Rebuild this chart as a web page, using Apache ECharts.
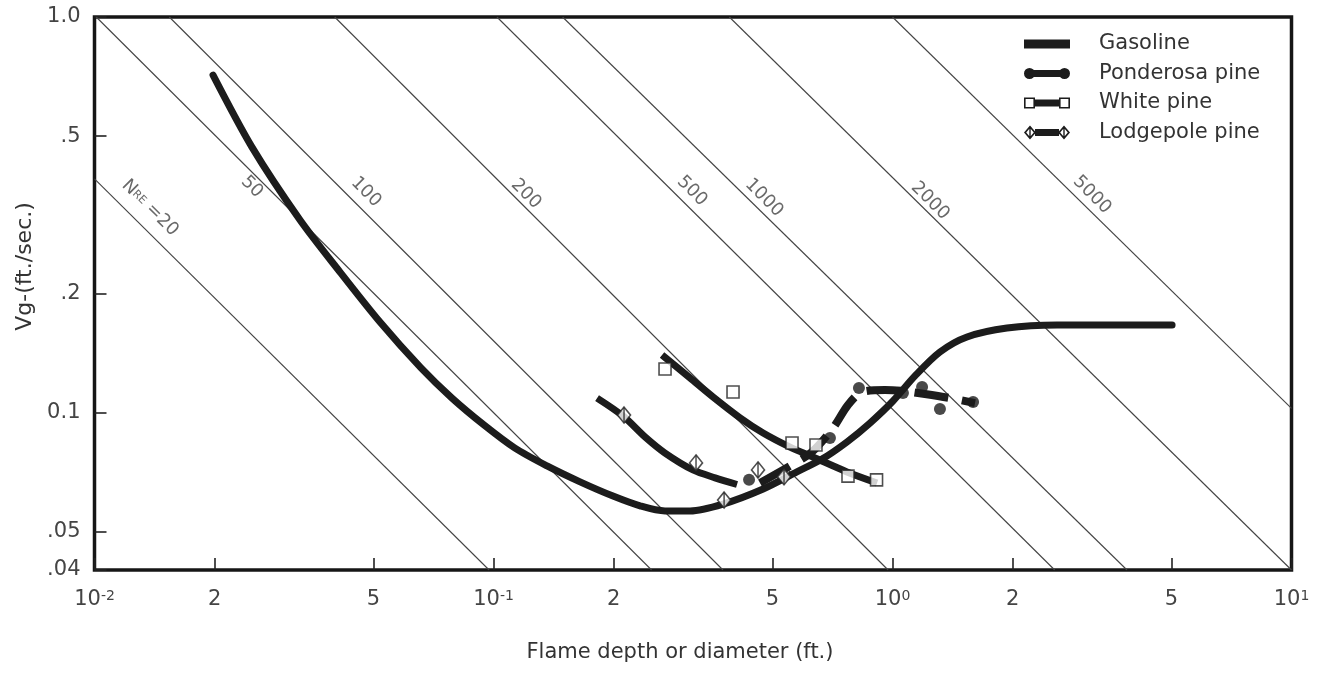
<!DOCTYPE html>
<html>
<head>
<meta charset="utf-8">
<script src="https://cdn.jsdelivr.net/npm/echarts@6/dist/echarts.min.js"></script>
<style>
html,body{margin:0;padding:0;background:#fff;}
#chart{width:1328px;height:673px;}
</style>
</head>
<body>
<div id="chart"></div>
<script>
// ---------------- data ----------------
const xTickValues = [0.01, 0.02, 0.05, 0.1, 0.2, 0.5, 1, 2, 5, 10];
const xTickLabels = ['10^-2', '2', '5', '10^-1', '2', '5', '10^0', '2', '5', '10^1'];
const yTickValues = [0.04, 0.05, 0.1, 0.2, 0.5, 1.0];
const yTickLabels = ['.04', '.05', '0.1', '.2', '.5', '1.0'];

const gasolineD = [0.01982, 0.02481, 0.03274, 0.04124, 0.05194, 0.0658, 0.0787, 0.0947, 0.1132, 0.1362, 0.1648, 0.1993, 0.233, 0.2691, 0.311, 0.376, 0.474, 0.576, 0.6658, 0.769, 0.878, 1.0029, 1.1386, 1.315, 1.537, 1.936, 2.584, 5.02];
const gasolineV = [0.713, 0.469, 0.3068, 0.2266, 0.1694, 0.1297, 0.1088, 0.093, 0.0813, 0.0733, 0.0668, 0.0615, 0.0581, 0.0564, 0.0564, 0.0587, 0.0641, 0.0708, 0.0763, 0.0843, 0.0941, 0.107, 0.1238, 0.1423, 0.1553, 0.1636, 0.1665, 0.1665];

const ponderosaLineD = [0.4655, 0.5535, 0.628, 0.7094, 0.7735, 0.8387, 0.9577, 1.062, 1.206, 1.394, 1.61];
const ponderosaLineV = [0.0664, 0.0733, 0.0795, 0.0914, 0.1045, 0.1127, 0.114, 0.1134, 0.1114, 0.1088, 0.1057];
const ponderosaPtD = [0.437, 0.697, 0.824, 1.062, 1.186, 1.315, 1.592];
const ponderosaPtV = [0.0676, 0.0863, 0.1154, 0.1121, 0.1161, 0.1021, 0.1063];

const whiteLineD = [0.2645, 0.311, 0.355, 0.4148, 0.474, 0.5535, 0.632, 0.769, 0.9146];
const whiteLineV = [0.1398, 0.1223, 0.1095, 0.097, 0.0888, 0.0818, 0.0772, 0.0708, 0.0664];
const whitePtD = [0.2691, 0.3984, 0.56, 0.643, 0.7735, 0.912];
const whitePtV = [0.1289, 0.1127, 0.0838, 0.0828, 0.0691, 0.0676];

const lodgeLineD = [0.1818, 0.2112, 0.2397, 0.2691, 0.3162, 0.3592, 0.4077];
const lodgeLineV = [0.1088, 0.098, 0.0868, 0.079, 0.0716, 0.0684, 0.0658];
const lodgePtD = [0.2124, 0.3218, 0.3784, 0.4602, 0.5347];
const lodgePtV = [0.0986, 0.0746, 0.0601, 0.0716, 0.0688];

// Reynolds-number lines: end points and label anchors (D, V)
const reNumbers = ['20', '50', '100', '200', '500', '1000', '2000', '5000'];
const reStart = [[0.01, 0.39], [0.0101, 1.0], [0.0154, 1.0], [0.040, 1.0], [0.102, 1.0], [0.149, 1.0], [0.39, 1.0], [1.0, 1.0]];
const reEnd = [[0.0975, 0.04], [0.249, 0.04], [0.376, 0.04], [0.975, 0.04], [2.55, 0.04], [3.87, 0.04], [10, 0.04], [10, 0.1025]];
const reLabelPos = [[0.01377, 0.329], [0.0248, 0.372], [0.0479, 0.361], [0.1206, 0.357], [0.3144, 0.363], [0.4762, 0.349], [1.242, 0.343], [3.162, 0.355]];

// ---------------- helpers ----------------
const FONT = "'DejaVu Sans', 'Liberation Sans', sans-serif";
const INK = '#1c1c1c';
const zip = (a, b) => a.map((v, i) => [v, b[i]]);
function lookup(values, labels, v) {
  for (let i = 0; i < values.length; i++) {
    if (Math.abs(Math.log10(v) - Math.log10(values[i])) < 1e-6) return labels[i];
  }
  return '';
}
const toRich = s => s.replace(/\^(.+)$/, '{sup|$1}');

// legend icons (box 70 x 14, drawn part 0..46)
const BOX = ' M70,0L70.01,0L70,0.01Z M0,0L0.01,0L0,0.01Z M0,14L0.01,14L0,13.99Z';
const iconGasoline = 'path://M0,2.5H46V11.5H0Z' + BOX;
const iconPonderosa = 'path://M0,7A5.5,5.5 0 1,1 11,7A5.5,5.5 0 1,1 0,7Z M9,3.5H37V10.5H9Z M35,7A5.5,5.5 0 1,1 46,7A5.5,5.5 0 1,1 35,7Z' + BOX;
const iconWhite = 'path://M0,1.5H11V12.5H0Z M1.6,3.1V10.9H9.4V3.1Z M11,3.5H35V10.5H11Z M35,1.5H46V12.5H35Z M36.6,3.1V10.9H44.4V3.1Z' + BOX;
const iconLodge = 'path://M6,0L12,7L6,14L0,7Z M6,2.6L2.2,7L6,11.4L9.8,7Z M5.3,0.6H6.7V13.4H5.3Z M11,3.5H35V10.5H11Z M40,0L46,7L40,14L34,7Z M40,2.6L36.2,7L40,11.4L43.8,7Z M39.3,0.6H40.7V13.4H39.3Z' + BOX;

const series = [];
reNumbers.forEach((n, i) => {
  series.push({
    type: 'line', name: 'NRE ' + n, data: [reStart[i], reEnd[i]],
    showSymbol: false, silent: true, z: 1,
    lineStyle: { color: '#444', width: 1.1 }
  });
});
series.push({
  type: 'scatter', name: 'reLabels', silent: true, z: 2,
  symbolSize: 1, itemStyle: { color: 'rgba(0,0,0,0)' },
  data: reLabelPos.map((p, i) => ({ value: p, name: i === 0 ? 'N{s|RE} =' + reNumbers[i] : reNumbers[i] })),
  label: {
    show: true, position: 'inside', rotate: -44.8,
    formatter: p => p.name,
    fontSize: 18, fontFamily: FONT, color: '#444',
    rich: { s: { fontSize: 11, fontFamily: FONT, color: '#444' } }
  }
});
series.push({
  type: 'line', name: 'Gasoline', data: zip(gasolineD, gasolineV), smooth: 0.3,
  showSymbol: false, z: 4, lineStyle: { color: INK, width: 7, cap: 'round' }
});
series.push({
  type: 'line', name: 'White pine', data: zip(whiteLineD, whiteLineV), smooth: 0.3,
  showSymbol: false, z: 4, lineStyle: { color: INK, width: 7, cap: 'butt' }
});
series.push({
  type: 'line', name: 'Lodgepole pine', data: zip(lodgeLineD, lodgeLineV), smooth: 0.3,
  showSymbol: false, z: 4, lineStyle: { color: INK, width: 7, cap: 'butt' }
});
series.push({
  type: 'line', name: 'Ponderosa pine', data: zip(ponderosaLineD, ponderosaLineV), smooth: 0.3,
  showSymbol: false, z: 5, lineStyle: { color: INK, width: 8, type: [34, 14], cap: 'butt' }
});
series.push({
  type: 'scatter', name: 'Ponderosa pine', data: zip(ponderosaPtD, ponderosaPtV), z: 6,
  symbol: 'circle', symbolSize: 12, itemStyle: { color: INK }
});
series.push({
  type: 'scatter', name: 'White pine', data: zip(whitePtD, whitePtV), z: 6,
  symbol: 'rect', symbolSize: 12, itemStyle: { color: '#fff', borderColor: '#222', borderWidth: 1.6 }
});
series.push({
  type: 'scatter', name: 'Lodgepole pine', data: zip(lodgePtD, lodgePtV), z: 6,
  symbol: 'diamond', symbolSize: [13, 16], itemStyle: { color: '#fff', borderColor: '#222', borderWidth: 1.6 }
});
series.push({
  type: 'scatter', name: 'Lodgepole pine', data: zip(lodgePtD, lodgePtV), z: 7,
  symbol: 'rect', symbolSize: [1.5, 15], itemStyle: { color: '#222' }
});

const chart = echarts.init(document.getElementById('chart'), null, { renderer: 'canvas' });
chart.setOption({
  animation: false,
  backgroundColor: '#fff',
  grid: {
    left: 94.5, right: 36.5, top: 17, bottom: 103,
    show: true, borderColor: '#161616', borderWidth: 3.5,
    containLabel: false, outerBoundsMode: 'none'
  },
  legend: {
    orient: 'vertical', left: 1019, top: 28,
    itemWidth: 70, itemHeight: 14, itemGap: 7.5,
    selectedMode: false,
    textStyle: { fontSize: 21, lineHeight: 22, fontFamily: FONT, color: '#333' },
    data: [
      { name: 'Gasoline', icon: iconGasoline, itemStyle: { color: INK } },
      { name: 'Ponderosa pine', icon: iconPonderosa, itemStyle: { color: INK } },
      { name: 'White pine', icon: iconWhite, itemStyle: { color: INK } },
      { name: 'Lodgepole pine', icon: iconLodge, itemStyle: { color: INK } }
    ]
  },
  xAxis: {
    type: 'log', logBase: 10, min: 0.01, max: 10,
    name: 'Flame depth or diameter (ft.)', nameLocation: 'middle', nameGap: 72,
    nameTextStyle: { fontSize: 21, fontFamily: FONT, color: '#333', padding: [0, 26, 0, 0] },
    axisLine: { show: false },
    splitLine: { show: false },
    minorTick: { show: false },
    axisTick: { show: true, inside: true, length: 12, customValues: xTickValues, lineStyle: { color: '#222', width: 1.6 } },
    axisLabel: {
      show: true, margin: 19, customValues: xTickValues,
      fontSize: 21, fontFamily: FONT, color: '#444',
      formatter: v => toRich(lookup(xTickValues, xTickLabels, v)),
      rich: { sup: { fontSize: 14, fontFamily: FONT, color: '#444', verticalAlign: 'top', lineHeight: 14 } }
    }
  },
  yAxis: {
    type: 'log', logBase: 10, min: 0.04, max: 1.0,
    name: 'Vg-(ft./sec.)', nameLocation: 'middle', nameGap: 56,
    nameTextStyle: { fontSize: 22, fontFamily: FONT, color: '#333', padding: [0, 0, 0, 54] },
    axisLine: { show: false },
    splitLine: { show: false },
    minorTick: { show: false },
    axisTick: { show: true, inside: true, length: 12, customValues: yTickValues, lineStyle: { color: '#222', width: 1.6 } },
    axisLabel: {
      show: true, margin: 14, customValues: yTickValues,
      fontSize: 21, fontFamily: FONT, color: '#444',
      formatter: v => lookup(yTickValues, yTickLabels, v)
    }
  },
  series: series
});
</script>
</body>
</html>
